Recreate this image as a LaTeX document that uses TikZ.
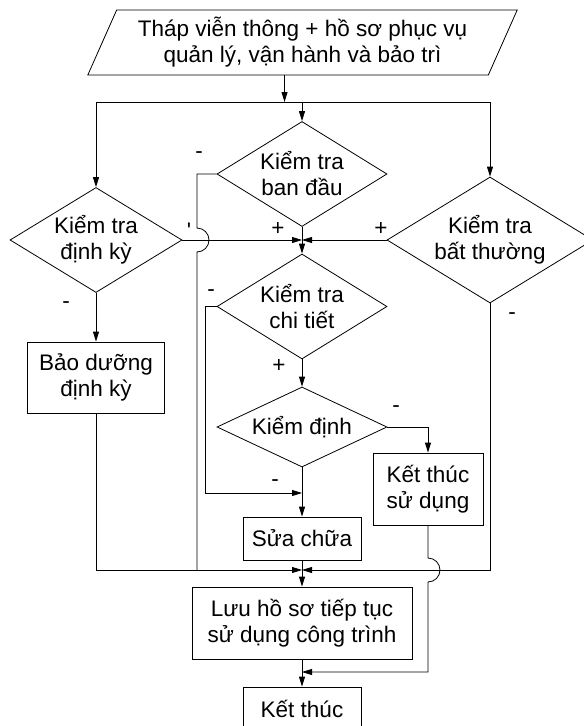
\documentclass[tikz,border=0pt]{standalone}
\usepackage{fontspec}
\setmainfont{Liberation Sans}
\usepackage{tikz}
\usetikzlibrary{arrows.meta,shapes.geometric,calc}

\begin{document}
\begin{tikzpicture}[
  x=1pt, y=-1pt,
  font=\fontsize{22.5}{26}\selectfont,
  line width=0.8pt,
  io/.style={draw, trapezium, trapezium left angle=63, trapezium right angle=117, trapezium stretches=true, align=center, minimum width=430pt, minimum height=65pt, inner sep=0pt},
  decision/.style={draw, diamond, align=center, inner sep=0pt},
  process/.style={draw, align=center, inner sep=0pt},
  arrow/.style={-{Triangle[length=10pt, width=6pt]}},
  lbl/.style={inner sep=0pt}
]
\useasboundingbox (0,0) rectangle (584,726);

\node[io] (src) at (302.5,42.5) {Tháp viễn thông + hồ sơ phục vụ\\quản lý, vận hành và bảo trì};
\node[decision, minimum width=170pt, minimum height=105pt, aspect=1.62] (bd) at (302,174) {Kiểm tra\\ban đầu};
\node[decision, minimum width=172pt, minimum height=105pt, aspect=1.64] (dk) at (96,240) {Kiểm tra\\định kỳ};
\node[decision, minimum width=206pt, minimum height=126pt, aspect=1.63] (bt) at (490,240) {Kiểm tra\\bất thường};
\node[decision, minimum width=170pt, minimum height=105pt, aspect=1.62] (ct) at (302,306.5) {Kiểm tra\\chi tiết};
\node[decision, minimum width=170pt, minimum height=80pt, aspect=2.12] (kd) at (302,427) {Kiểm định};
\node[process, minimum width=137pt, minimum height=71pt] (bdk) at (96,377.5) {Bảo dưỡng\\định kỳ};
\node[process, minimum width=110pt, minimum height=72pt] (kts) at (428,489) {Kết thúc\\sử dụng};
\node[process, minimum width=118pt, minimum height=43pt] (sc) at (302,538.5) {Sửa chữa};
\node[process, minimum width=220pt, minimum height=72pt] (luu) at (302,623) {Lưu hồ sơ tiếp tục\\sử dụng công trình};
\node[process, minimum width=118pt, minimum height=44pt] (kt) at (302,709) {Kết thúc};

\coordinate (bus) at (302,102);
\coordinate (j1) at (bd.south |- dk.east);
\coordinate (j3) at (302,493);
\coordinate (j2) at (302,570);
\coordinate (j4) at (302,672);

\draw[arrow] ([xshift=-18pt]src.south) -- ([xshift=-18pt]src.south |- bus);
\draw (dk.north |- bus) -- (bt.north |- bus);
\draw[arrow] (dk.north |- bus) -- (dk.north);
\draw[arrow] (bus) -- (bd.north);
\draw[arrow] (bt.north |- bus) -- (bt.north);

\draw (bd.south) -- (j1);
\draw[arrow] (dk.east) -- (j1);
\draw[arrow] (bt.west) -- (j1);
\draw[arrow] (j1) -- (ct.north);
\draw (bd.west) -- (197,174) -- (197,228) arc[start angle=-90, end angle=90, radius=12] -- (197,570);

\draw[arrow] (dk.south) -- (bdk.north);
\draw[arrow] (bdk.south) |- (j2);
\draw[arrow] (bt.south) |- (j2);

\draw[arrow] (ct.south) -- (kd.north);
\draw[arrow] (ct.west) -- (205,306.5) |- (j3);
\draw (kd.south) -- (j3);
\draw[arrow] (j3) -- (sc.north);
\draw[arrow] (kd.east) -| (kts.north);

\draw (sc.south) -- (j2);
\draw[arrow] (j2) -- (luu.north);
\draw[arrow] (kts.south) -- (428,558) arc[start angle=-90, end angle=90, radius=12] |- (j4);
\draw (luu.south) -- (j4);
\draw[arrow] (j4) -- (kt.north);

\node[lbl] (m1) at (199,155) {-};
\node[lbl] (p1) at (278,229) {+};
\node[lbl] (p2) at (381,229) {+};
\node[lbl] (t1) at (189,231) {\textquotesingle};
\node[lbl] (m2) at (66,305) {-};
\node[lbl] (m3) at (211,293) {-};
\node[lbl] (p3) at (279,366) {+};
\node[lbl] (m4) at (396,409) {-};
\node[lbl] (m5) at (275,483) {-};
\node[lbl] (m6) at (512,316) {-};
\end{tikzpicture}
\end{document}
